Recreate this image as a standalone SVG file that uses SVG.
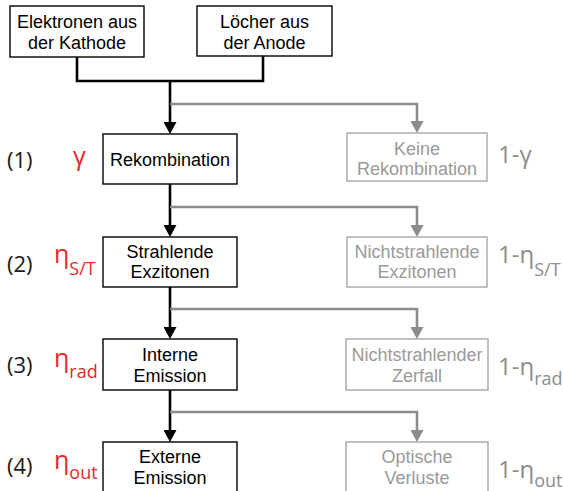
<svg xmlns="http://www.w3.org/2000/svg" width="563" height="491" viewBox="0 0 563 491">
<defs>
<style>
.bn{fill:#fff;stroke:#000;stroke-width:1.4}
.gn{fill:#fff;stroke:#a6a6a6;stroke-width:1.4}
.bt{font-family:"Liberation Sans",Arial,sans-serif;font-size:18px;fill:#000;text-anchor:middle}
.gt{font-family:"Liberation Sans",Arial,sans-serif;font-size:18px;fill:#9a9a9a;text-anchor:middle}
.bl{fill:none;stroke:#000;stroke-width:2.6}
.gl{fill:none;stroke:#8c8c8c;stroke-width:2.6}
.num{font-family:"Open Sans","DejaVu Sans",sans-serif;font-size:22px;fill:#1a1a1a}
.red{font-family:"Open Sans","DejaVu Sans",sans-serif;font-size:25px;fill:#e8262c}
.grey{font-family:"Open Sans","DejaVu Sans",sans-serif;font-size:24px;fill:#8c8c8c}
.sub{font-size:18px}
</style>
<marker id="ab" viewBox="0 0 12 13" markerWidth="12" markerHeight="13" refX="1" refY="6.5" orient="auto" markerUnits="userSpaceOnUse"><path d="M0,0 L12,6.5 L0,13 z" fill="#000"/></marker>
<marker id="ag" viewBox="0 0 12 13" markerWidth="12" markerHeight="13" refX="1" refY="6.5" orient="auto" markerUnits="userSpaceOnUse"><path d="M0,0 L12,6.5 L0,13 z" fill="#8c8c8c"/></marker>
</defs>
<rect width="563" height="491" fill="#fff"/>
<g id="connectors">
<path class="bl" d="M77,57 V81 H263 V56"/>
<path class="bl" d="M170,80 V123" marker-end="url(#ab)"/>
<path class="gl" d="M170,104 H417 V122" marker-end="url(#ag)"/>
<path class="bl" d="M170,184 V226" marker-end="url(#ab)"/>
<path class="gl" d="M170,207 H417 V226" marker-end="url(#ag)"/>
<path class="bl" d="M170,287 V328" marker-end="url(#ab)"/>
<path class="gl" d="M170,309 H417 V328" marker-end="url(#ag)"/>
<path class="bl" d="M170,390 V431" marker-end="url(#ab)"/>
<path class="gl" d="M170,412 H417 V431" marker-end="url(#ag)"/>
</g>
<g id="n-elektronen"><rect class="bn" x="10" y="6" width="134" height="51"/><text class="bt" x="77" y="28">Elektronen aus</text><text class="bt" x="77" y="49">der Kathode</text></g>
<g id="n-loecher"><rect class="bn" x="197" y="6" width="135" height="50"/><text class="bt" x="264.5" y="28">Löcher aus</text><text class="bt" x="264.5" y="49">der Anode</text></g>
<g id="n-rekombination"><rect class="bn" x="103" y="134" width="134" height="50"/><text class="bt" x="170" y="166">Rekombination</text></g>
<g id="n-keine"><rect class="gn" x="347" y="133" width="140" height="48"/><text class="gt" x="417" y="155">Keine</text><text class="gt" x="417" y="175">Rekombination</text></g>
<g id="n-strahlende"><rect class="bn" x="103" y="237" width="134" height="50"/><text class="bt" x="170" y="258">Strahlende</text><text class="bt" x="170" y="278">Exzitonen</text></g>
<g id="n-nichtstrahlende"><rect class="gn" x="347" y="237" width="140" height="50"/><text class="gt" x="417" y="258">Nichtstrahlende</text><text class="gt" x="417" y="278">Exzitonen</text></g>
<g id="n-interne"><rect class="bn" x="103" y="339" width="134" height="51"/><text class="bt" x="170" y="361">Interne</text><text class="bt" x="170" y="382">Emission</text></g>
<g id="n-zerfall"><rect class="gn" x="346" y="339" width="142" height="51"/><text class="gt" x="417" y="361">Nichtstrahlender</text><text class="gt" x="417" y="382">Zerfall</text></g>
<g id="n-externe"><rect class="bn" x="103" y="442" width="134" height="60"/><text class="bt" x="170" y="463">Externe</text><text class="bt" x="170" y="484">Emission</text></g>
<g id="n-optische"><rect class="gn" x="346" y="442" width="142" height="60"/><text class="gt" x="417" y="463">Optische</text><text class="gt" x="417" y="484">Verluste</text></g>
<g id="labels">
<text class="num" x="7" y="168">(1)</text>
<text class="num" x="7" y="272">(2)</text>
<text class="num" x="7" y="373">(3)</text>
<text class="num" x="7" y="474">(4)</text>
<text class="red" x="73" y="165">γ</text>
<text class="red" x="54" y="263">η<tspan class="sub" dy="12">S/T</tspan></text>
<text class="red" x="54" y="367">η<tspan class="sub" dy="11">rad</tspan></text>
<text class="red" x="54" y="469">η<tspan class="sub" dy="10">out</tspan></text>
<text class="grey" x="498" y="163">1-γ</text>
<text class="grey" x="498" y="263">1-η<tspan class="sub" dy="13">S/T</tspan></text>
<text class="grey" x="498" y="375">1-η<tspan class="sub" dy="10">rad</tspan></text>
<text class="grey" x="498" y="478">1-η<tspan class="sub" dy="9">out</tspan></text>
</g>
</svg>
